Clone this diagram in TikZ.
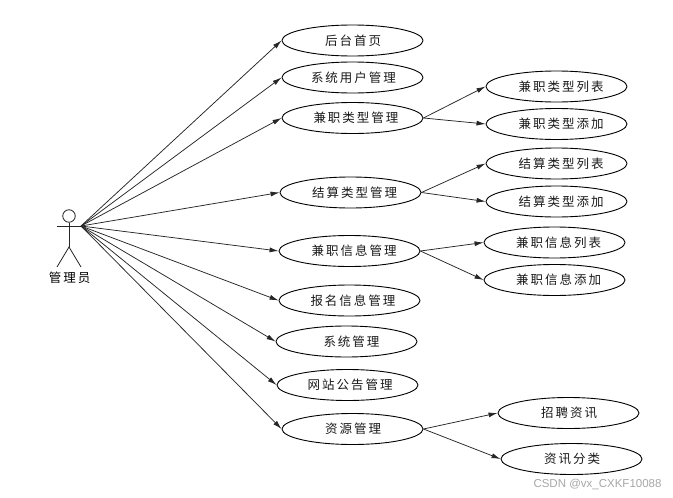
\documentclass[tikz,border=0pt]{standalone}
\usepackage{fontspec}
\setmainfont{Liberation Sans}
\newfontfamily\cjk[LetterSpace=16]{Noto Sans CJK SC}
\usetikzlibrary{shapes.geometric,arrows.meta}
\tikzset{
  uc/.style={ellipse,draw=black,line width=0.9pt,minimum width=141pt,minimum height=31pt,inner sep=0pt,font=\cjk\fontsize{12.5}{14}\selectfont,text=black!90},
  off/.style={execute at begin node={\hspace*{#1pt}}},
  lnk/.style={draw=black!85,line width=0.75pt,-{Latex[length=9pt,width=5pt]}},
  stick/.style={draw=black!85,line width=0.8pt},
  lbl/.style={inner sep=0pt,font=\cjk\fontsize{12.5}{14}\selectfont},
  mark text/.style={inner sep=0pt,text=black!35,font=\fontsize{11.5}{14}\selectfont}
}
\begin{document}
\begin{tikzpicture}[x=1pt,y=-1pt]
\useasboundingbox (0,0) rectangle (673,498);
\node[uc,off=1] (a1) at (352.5,40.5) {后台首页};
\node[uc,off=2] (a2) at (352.5,77.5) {系统用户管理};
\node[uc,off=7] (a3) at (352.5,118) {兼职类型管理};
\node[uc,off=8] (a4) at (350.5,192.5) {结算类型管理};
\node[uc,off=9] (a5) at (349.5,251) {兼职信息管理};
\node[uc,off=7] (a6) at (349.5,300.5) {报名信息管理};
\node[uc,off=10] (a7) at (346.5,341.5) {系统管理};
\node[uc,off=5] (a8) at (347.5,385) {网站公告管理};
\node[uc,off=1] (a9) at (352.5,429) {资源管理};
\node[uc,off=9] (b1) at (556.5,86.5) {兼职类型列表};
\node[uc,off=9] (b2) at (556.5,124) {兼职类型添加};
\node[uc,off=9] (c1) at (556.5,163.5) {结算类型列表};
\node[uc,off=9] (c2) at (556.5,201.5) {结算类型添加};
\node[uc,off=8] (d1) at (554.5,242.5) {兼职信息列表};
\node[uc,off=8] (d2) at (554.5,280) {兼职信息添加};
\node[uc,off=1] (e1) at (568.5,413) {招聘资讯};
\node[uc,off=1] (e2) at (571.5,459) {资讯分类};
% actor
\node[circle,stick,minimum size=12.5pt,inner sep=0pt] (head) at (69,216) {};
\coordinate (armL) at (57,226);
\coordinate (hub) at (81,226);
\coordinate (hip) at (69,247);
\coordinate (footL) at (57,267);
\coordinate (footR) at (81,267);
\draw[stick] (armL) -- (hub);
\draw[stick] (head.south) -- (hip);
\draw[stick] (footL) -- (hip) -- (footR);
\node[lbl] (actor) at (69.5,278) {管理员};
% connectors
\foreach \t in {a1,a2,a3,a4,a5,a6,a7,a8,a9} \draw[lnk] (hub) -- (\t.west);
\draw[lnk] (a3.east) -- (b1.west);
\draw[lnk] (a3.east) -- (b2.west);
\draw[lnk] (a4.east) -- (c1.west);
\draw[lnk] (a4.east) -- (c2.west);
\draw[lnk] (a5.east) -- (d1.west);
\draw[lnk] (a5.east) -- (d2.west);
\draw[lnk] (a9.east) -- (e1.west);
\draw[lnk] (a9.east) -- (e2.west);
\node[mark text] (wm) at (597.5,484) {CSDN @vx\_CXKF10088};
\end{tikzpicture}
\end{document}
